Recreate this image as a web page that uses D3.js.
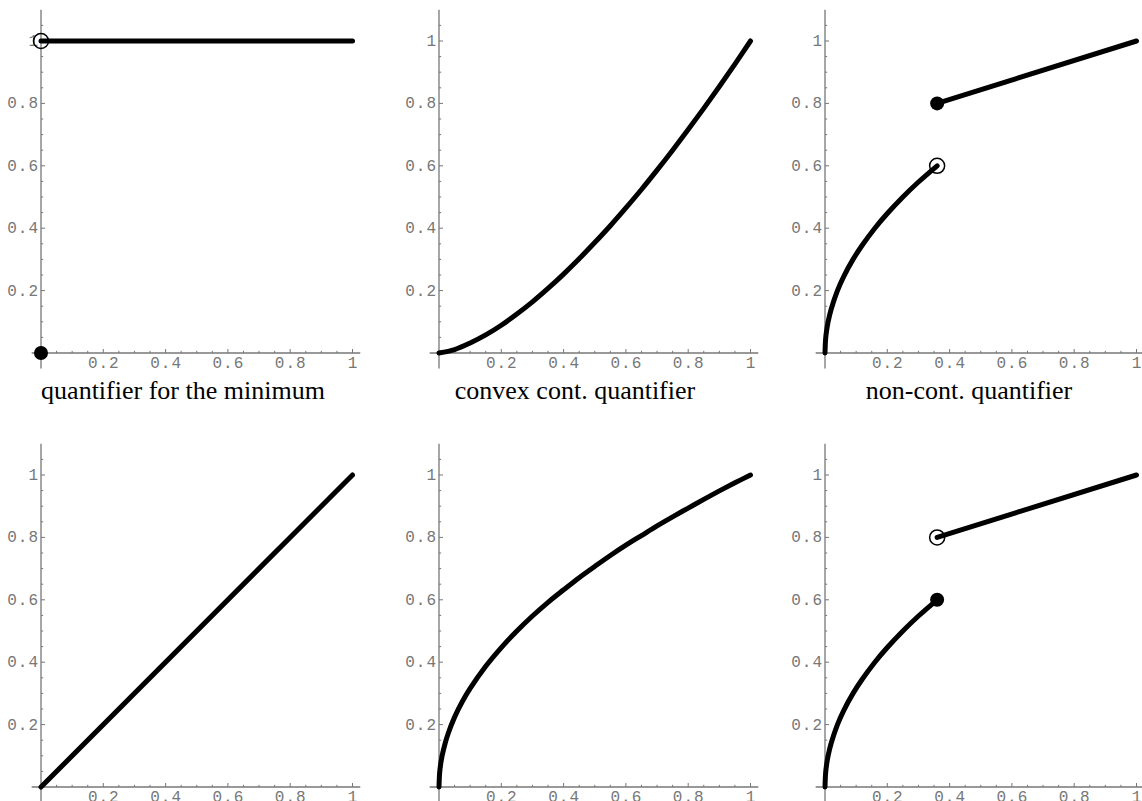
<!DOCTYPE html>
<html><head><meta charset="utf-8">
<script src="https://cdn.jsdelivr.net/npm/d3@7"></script>
<style>html,body{margin:0;padding:0;background:#fff;overflow:hidden}</style>
</head><body>
<svg id="c" width="1142" height="801"></svg>
<script>
// ---- data ----
const xTickValues = [0.2, 0.4, 0.6, 0.8, 1];
const yTickValues = [0.2, 0.4, 0.6, 0.8, 1];
const tickLabels = ["0.2", "0.4", "0.6", "0.8", "1"];
const minorTickValues = [0.05,0.1,0.15,0.25,0.3,0.35,0.45,0.5,0.55,0.65,0.7,0.75,0.85,0.9,0.95,1.05];
const captions = ["quantifier for the minimum", "convex cont. quantifier", "non-cont. quantifier"];

// panel 1: quantifier for the minimum
const minLineX = [0, 1];
const minLineY = [1, 1];
const minOpen = [[0, 1]];
const minFilled = [[0, 0]];

// panel 2: convex continuous quantifier
const convexX = [0,0.05,0.1,0.15,0.2,0.25,0.3,0.35,0.4,0.45,0.5,0.55,0.6,0.65,0.7,0.75,0.8,0.85,0.9,0.95,1];
const convexY = [0,0.011,0.032,0.058,0.089,0.125,0.164,0.207,0.253,0.302,0.354,0.408,0.465,0.524,0.586,0.650,0.716,0.784,0.854,0.926,1];

// panel 3: non-continuous quantifier
const ncLowX = [0,0.002,0.005,0.01,0.02,0.04,0.06,0.09,0.12,0.16,0.2,0.25,0.3,0.36];
const ncLowY = [0,0.045,0.071,0.1,0.141,0.2,0.245,0.3,0.346,0.4,0.447,0.5,0.548,0.6];
const ncHighX = [0.36, 1];
const ncHighY = [0.8, 1];
const ncTopOpen = [[0.36, 0.6]];
const ncTopFilled = [[0.36, 0.8]];
const ncBotOpen = [[0.36, 0.8]];
const ncBotFilled = [[0.36, 0.6]];

// panel 4: identity
const idX = [0, 1];
const idY = [0, 1];

// panel 5: concave continuous
const concX = [0,0.002,0.005,0.01,0.02,0.03,0.05,0.075,0.1,0.15,0.2,0.25,0.3,0.35,0.4,0.45,0.5,0.55,0.6,0.65,0.7,0.75,0.8,0.85,0.9,0.95,1];
const concY = [0,0.045,0.071,0.1,0.141,0.173,0.224,0.274,0.316,0.387,0.447,0.5,0.548,0.592,0.632,0.671,0.707,0.742,0.775,0.806,0.837,0.866,0.894,0.922,0.949,0.975,1];

const zip = (a, b) => a.map((v, i) => [v, b[i]]);

// ---- layout ----
const colX = [41, 439, 825];
const rowY = [353, 787];
const W = 311.5, H = 312;
const captionX = [183, 575, 969];
const captionY = 399;

const svg = d3.select("#c");

const panels = [
  {col:0,row:0, lines:[zip(minLineX,minLineY)], open:minOpen, filled:minFilled},
  {col:1,row:0, lines:[zip(convexX,convexY)], open:[], filled:[]},
  {col:2,row:0, lines:[zip(ncLowX,ncLowY), zip(ncHighX,ncHighY)], open:ncTopOpen, filled:ncTopFilled},
  {col:0,row:1, lines:[zip(idX,idY)], open:[], filled:[]},
  {col:1,row:1, lines:[zip(concX,concY)], open:[], filled:[]},
  {col:2,row:1, lines:[zip(ncLowX,ncLowY), zip(ncHighX,ncHighY)], open:ncBotOpen, filled:ncBotFilled}
];

const axisColor = "#777";
const labelColor = "#777";
const monoFont = "'Liberation Mono', 'DejaVu Sans Mono', monospace";

panels.forEach(p => {
  const x0 = colX[p.col], y0 = rowY[p.row];
  const x = d3.scaleLinear().domain([0,1]).range([x0, x0 + W]);
  const y = d3.scaleLinear().domain([0,1]).range([y0, y0 - H]);
  const g = svg.append("g");

  // x axis
  g.append("line").attr("x1", x(-0.03)).attr("x2", x(1.025)).attr("y1", y0).attr("y2", y0)
    .attr("stroke", axisColor).attr("stroke-width", 1.3);
  // y axis
  g.append("line").attr("x1", x0).attr("x2", x0).attr("y1", y(-0.05)).attr("y2", y(1.1))
    .attr("stroke", axisColor).attr("stroke-width", 1.3);

  // x ticks
  g.selectAll(null).data(xTickValues).join("line")
    .attr("x1", d => x(d)).attr("x2", d => x(d)).attr("y1", y0).attr("y2", y0 - 4)
    .attr("stroke", axisColor).attr("stroke-width", 1);
  g.selectAll(null).data(minorTickValues.filter(d => d <= 1)).join("line")
    .attr("x1", d => x(d)).attr("x2", d => x(d)).attr("y1", y0).attr("y2", y0 - 2.2)
    .attr("stroke", axisColor).attr("stroke-width", 1);
  // y ticks
  g.selectAll(null).data(yTickValues).join("line")
    .attr("x1", x0).attr("x2", x0 + 4).attr("y1", d => y(d)).attr("y2", d => y(d))
    .attr("stroke", axisColor).attr("stroke-width", 1);
  g.selectAll(null).data(minorTickValues).join("line")
    .attr("x1", x0).attr("x2", x0 + 2.2).attr("y1", d => y(d)).attr("y2", d => y(d))
    .attr("stroke", axisColor).attr("stroke-width", 1);

  // tick labels
  g.selectAll(null).data(xTickValues).join("text")
    .attr("x", d => x(d) + 0.5).attr("y", y0 + 15)
    .attr("text-anchor", "middle")
    .attr("font-family", monoFont)
    .attr("font-size", 16).attr("letter-spacing", 1).attr("fill", labelColor)
    .text((d, i) => tickLabels[i]);
  g.selectAll(null).data(yTickValues).join("text")
    .attr("x", x0 - 2).attr("y", d => y(d) + 5)
    .attr("text-anchor", "end")
    .attr("font-family", monoFont)
    .attr("font-size", 16).attr("letter-spacing", 1).attr("fill", labelColor)
    .text((d, i) => tickLabels[i]);

  // curves
  const line = d3.line().x(d => x(d[0])).y(d => y(d[1])).curve(d3.curveCatmullRom.alpha(0.5));
  p.lines.forEach(pts => {
    g.append("path").attr("d", line(pts)).attr("fill", "none")
      .attr("stroke", "#000").attr("stroke-width", 5).attr("stroke-linecap", "round");
  });

  // points
  g.selectAll(null).data(p.filled).join("circle")
    .attr("cx", d => x(d[0])).attr("cy", d => y(d[1])).attr("r", 7).attr("fill", "#000");
  g.selectAll(null).data(p.open).join("circle")
    .attr("cx", d => x(d[0])).attr("cy", d => y(d[1])).attr("r", 7.5)
    .attr("fill", "none").attr("stroke", "#000").attr("stroke-width", 1.5);
});

// captions
svg.selectAll(null).data(captions).join("text")
  .attr("x", (d, i) => captionX[i]).attr("y", captionY)
  .attr("text-anchor", "middle")
  .attr("font-family", "'Liberation Serif', 'Times New Roman', serif")
  .attr("font-size", 26).attr("fill", "#000")
  .text(d => d);
</script>
</body></html>
